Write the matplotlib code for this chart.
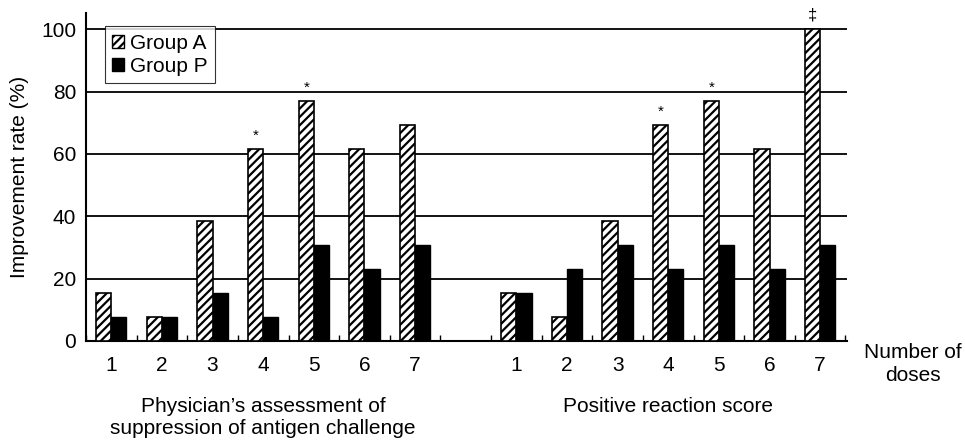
import matplotlib
matplotlib.use("Agg")
import matplotlib.pyplot as plt
from matplotlib.patches import Patch
import numpy as np

# improvement rate (%) by number of doses
doses = ['1', '2', '3', '4', '5', '6', '7']
assess_a = [15.4, 7.7, 38.5, 61.5, 76.9, 61.5, 69.2]
assess_p = [7.7, 7.7, 15.4, 7.7, 30.8, 23.1, 30.8]
score_a = [15.4, 7.7, 38.5, 69.2, 76.9, 61.5, 100.0]
score_p = [15.4, 23.1, 30.8, 23.1, 30.8, 23.1, 30.8]
# significance marks above Group A bars (dose index -> symbol)
assess_sig = {3: '*', 4: '*'}
score_sig = {3: '*', 4: '*', 6: '\u2021'}

plt.rcParams['font.family'] = ['Liberation Sans', 'DejaVu Sans']
plt.rcParams['hatch.linewidth'] = 1.6

FS = 15

fig = plt.figure(figsize=(9.65, 4.44), dpi=100)
ax = fig.add_axes([0.0891, 0.232, 0.7886, 0.7394])

w = 0.3
x_left = np.arange(len(doses))
x_right = x_left + len(doses) + 1

for xs, a, p, sig in [(x_left, assess_a, assess_p, assess_sig),
                      (x_right, score_a, score_p, score_sig)]:
    ax.bar(xs - w/2, a, w, color='white', edgecolor='black', hatch='////',
           linewidth=1.2, zorder=3)
    ax.bar(xs + w/2, p, w, color='black', edgecolor='black', linewidth=1.0,
           zorder=3)
    for i, s in sig.items():
        ax.text(xs[i] - w/2, a[i] + 2.0, s, ha='center', va='bottom',
                fontsize=11 if s == '*' else 12, clip_on=False)

ax.set_xlim(-0.47, x_right[-1] + 0.53)
ax.set_ylim(0, 105.3)

for yv in [20, 40, 60, 80, 100]:
    ax.axhline(yv, color='black', linewidth=1.3, zorder=1)

ax.set_yticks([0, 20, 40, 60, 80, 100])
ax.tick_params(axis='y', length=0, pad=7, labelsize=FS)
ax.set_xticks(np.concatenate([x_left, x_right]))
ax.set_xticklabels(doses + doses)
ax.tick_params(axis='x', which='major', length=0, pad=11, labelsize=FS)
ax.set_xticks(np.arange(-0.5, x_right[-1] + 1, 1.0), minor=True)
ax.tick_params(axis='x', which='minor', direction='in', length=4, width=1)

ax.spines['top'].set_visible(False)
ax.spines['right'].set_visible(False)
ax.spines['left'].set_linewidth(1.5)
ax.spines['bottom'].set_linewidth(1.5)

ax.set_ylabel('Improvement rate (%)', fontsize=FS, labelpad=9)

trans = ax.get_xaxis_transform()
ax.text(x_left.mean(), -0.17, "Physician\u2019s assessment of\nsuppression of antigen challenge",
        transform=trans, ha='center', va='top', fontsize=FS, linespacing=1.2)
ax.text(x_right.mean(), -0.17, "Positive reaction score",
        transform=trans, ha='center', va='top', fontsize=FS)
ax.text(15.83, -0.005, "Number of\ndoses", transform=trans, ha='center', va='top',
        fontsize=FS, linespacing=1.3, clip_on=False)

handles = [Patch(facecolor='white', edgecolor='black', hatch='////', label='Group A'),
           Patch(facecolor='black', edgecolor='black', label='Group P')]
leg = ax.legend(handles=handles, loc='upper left', bbox_to_anchor=(0.025, 0.958),
                borderaxespad=0, fontsize=FS, frameon=True, fancybox=False,
                handlelength=0.55, handleheight=0.6, handletextpad=0.3,
                borderpad=0.35, labelspacing=0.2)
leg.get_frame().set_edgecolor('black')
leg.get_frame().set_linewidth(0.8)
leg.set_zorder(5)

fig.savefig('out.png', dpi=100)
